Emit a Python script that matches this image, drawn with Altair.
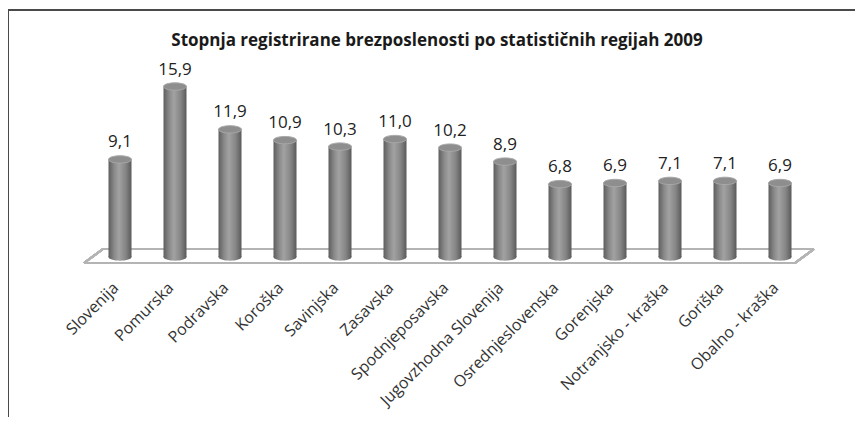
import altair as alt
import pandas as pd

regions = ["Slovenija", "Pomurska", "Podravska", "Koroška", "Savinjska", "Zasavska",
           "Spodnjeposavska", "Jugovzhodna Slovenija", "Osrednjeslovenska", "Gorenjska",
           "Notranjsko - kraška", "Goriška", "Obalno - kraška"]
rates = [9.1, 15.9, 11.9, 10.9, 10.3, 11.0, 10.2, 8.9, 6.8, 6.9, 7.1, 7.1, 6.9]
title_text = ["Stopnja registrirane brezposlenosti po statističnih regijah 2009"]

df = pd.DataFrame({"region": regions, "rate": rates})
df["label"] = [f"{v:.1f}".replace(".", ",") for v in rates]
tdf = pd.DataFrame({"t": title_text})

FONT = "Open Sans"
W, H = 715, 193

xenc = alt.X("region:N", sort=regions,
             scale=alt.Scale(paddingInner=0.58, paddingOuter=0.29),
             axis=alt.Axis(title=None, ticks=False, domain=False, labelAngle=-45,
                           labelAlign="right", labelBaseline="middle",
                           labelPadding=28, labelOffset=-4,
                           labelFont=FONT, labelFontSize=16, labelColor="#333333",
                           labelLimit=300))
yscale = alt.Scale(domain=[0, 18])
yenc = alt.Y("rate:Q", scale=yscale, axis=None)
xplain = alt.X("region:N", sort=regions)

grad = alt.Gradient(gradient="linear", x1=0, x2=1, y1=0, y2=0,
                    stops=[alt.GradientStop(color="#5e5e5e", offset=0),
                           alt.GradientStop(color="#8a8a8a", offset=0.25),
                           alt.GradientStop(color="#a2a2a2", offset=0.45),
                           alt.GradientStop(color="#858585", offset=0.75),
                           alt.GradientStop(color="#5a5a5a", offset=1)])

base = alt.Chart(df)

frame_col = "#4a4a4a"
frame_top = base.mark_rule(color=frame_col, strokeWidth=2).encode(
    x=alt.value(-84.5), x2=alt.value(780), y=alt.value(-54))
frame_left = base.mark_rule(color=frame_col, strokeWidth=2).encode(
    x=alt.value(-84.5), y=alt.value(-54), y2=alt.value(420))

floor_col = "#b4b4b4"
floor_top = base.mark_rule(color=floor_col, strokeWidth=2).encode(
    x=alt.value(10.5), x2=alt.value(721.5), y=alt.value(185), y2=alt.value(185))
floor_bot = base.mark_rule(color=floor_col, strokeWidth=2).encode(
    x=alt.value(-8.5), x2=alt.value(702.5), y=alt.value(199), y2=alt.value(199))
floor_l = base.mark_rule(color=floor_col, strokeWidth=2).encode(
    x=alt.value(10.5), x2=alt.value(-8.5), y=alt.value(185), y2=alt.value(199))
floor_r = base.mark_rule(color=floor_col, strokeWidth=2).encode(
    x=alt.value(721.5), x2=alt.value(702.5), y=alt.value(185), y2=alt.value(199))

ellipse = "M -1 0 A 1 0.32 0 1 0 1 0 A 1 0.32 0 1 0 -1 0 Z"

bars = base.mark_bar(color=grad, size=23).encode(x=xenc, y=yenc)
bottoms = base.mark_point(shape=ellipse, filled=True, size=529, fill=grad, opacity=1).encode(
    x=xplain, y=alt.value(H))
tops = base.mark_point(shape=ellipse, filled=True, size=529, fill="#8e8e8e",
                       stroke="#a8a8a8", strokeWidth=1, opacity=1).encode(x=xplain, y=yenc)
labels = base.mark_text(font=FONT, fontSize=17, color="#222222", baseline="alphabetic",
                        dy=-12).encode(x=xplain, y=yenc, text="label:N")
title = alt.Chart(tdf).mark_text(font=FONT, fontSize=17, fontWeight="bold", color="#1a1a1a",
                                 baseline="alphabetic", align="center").encode(
    x=alt.value(344.5), y=alt.value(-18), text="t:N")

chart = alt.layer(frame_top, frame_left, floor_top, floor_bot, floor_l, floor_r,
                  bottoms, bars, tops, labels, title).properties(
    width=W, height=H,
    background="white",
    autosize=alt.AutoSizeParams(type="none"),
    padding={"left": 84.5, "top": 56, "right": 47, "bottom": 160},
).configure_view(strokeWidth=0, stroke="transparent")

chart.save("out.html", embed_options={"renderer": "svg", "actions": False})
